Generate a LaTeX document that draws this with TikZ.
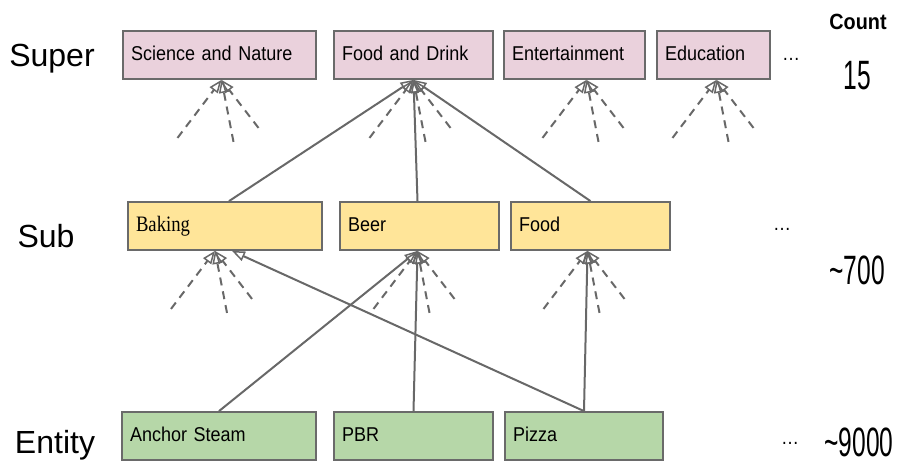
\documentclass[tikz,border=0pt]{standalone}
\usepackage{fontspec}
\setmainfont{Liberation Sans}
\newfontfamily\boxfont[FakeStretch=0.9]{Liberation Sans}
\newfontfamily\bakingfont[FakeStretch=0.85]{Liberation Serif}
\newfontfamily\countfont[FakeStretch=0.6]{Liberation Sans}
\newfontfamily\headfont[FakeStretch=0.9]{Liberation Sans}
\usepackage{xcolor}
\usetikzlibrary{arrows.meta}
\definecolor{supercolor}{HTML}{EAD1DC}
\definecolor{subcolor}{HTML}{FFE599}
\definecolor{entitycolor}{HTML}{B6D7A8}
\definecolor{bordercolor}{HTML}{6A6A6A}
\definecolor{linecolor}{HTML}{686868}

\begin{document}
\begin{tikzpicture}[x = 1pt, y = -1pt,
    box/.style = {draw = bordercolor, line width = 1.8pt, rectangle, minimum height = 48pt, inner xsep = 8pt, align = left, text height = 15pt, text depth = 4pt, font = \boxfont\fontsize{20}{24}\selectfont},
    link/.style = {-{Triangle[open, length = 13pt, width = 10pt, line width = 1.5pt]}, line width = 2pt, linecolor},
    fan/.style = {link, dash pattern = on 8pt off 6pt},
    level/.style = {font = \fontsize{32}{36}\selectfont},
    count/.style = {font = \countfont\fontsize{41}{46}\selectfont}]
        \useasboundingbox (0, 0) rectangle (908, 464);

        % Nodes
        \node [box, fill = supercolor, text width = 177pt] (sci) at (219.5, 55) {Science and Nature};
        \node [box, fill = supercolor, text width = 143pt] (fad) at (413.5, 55) {Food and Drink};
        \node [box, fill = supercolor, text width = 125pt] (ent) at (574.5, 55) {Entertainment};
        \node [box, fill = supercolor, text width = 97pt] (edu) at (713.5, 55) {Education};

        \node [box, fill = subcolor, text width = 178pt] (bak) at (225, 226) {\bakingfont\fontsize{22}{24}\selectfont Baking};
        \node [box, fill = subcolor, text width = 143pt] (beer) at (419.5, 226) {Beer};
        \node [box, fill = subcolor, text width = 143pt] (food) at (590.5, 226) {Food};

        \node [box, fill = entitycolor, text width = 178pt] (anc) at (219, 436) {Anchor Steam};
        \node [box, fill = entitycolor, text width = 143pt] (pbr) at (413.5, 436) {PBR};
        \node [box, fill = entitycolor, text width = 142pt] (piz) at (584, 436) {Pizza};

        % Draw the links
        \draw [link] ([xshift = 4pt] bak.north) -- (fad.south);
        \draw [link] ([xshift = -2pt] beer.north) -- (fad.south);
        \draw [link] (food.north) -- (fad.south);
        \draw [link] (anc.north) -- ([xshift = -2pt] beer.south);
        \draw [link] (pbr.north) -- ([xshift = -2pt] beer.south);
        \draw [link] (piz.north) -- ([xshift = -3pt] food.south);
        \draw [link] (piz.north) -- ([xshift = 7pt] bak.south);

        % Dashed fans
        \foreach \n/\s in {sci/2, fad/0, ent/12, edu/3, bak/-10, beer/-2, food/-3} {
            \draw [fan] ([shift = {(\s - 44, 58)}] \n.south) -- ([xshift = \s pt] \n.south);
            \draw [fan] ([shift = {(\s + 12, 62)}] \n.south) -- ([xshift = \s pt] \n.south);
            \draw [fan] ([shift = {(\s + 37, 48)}] \n.south) -- ([xshift = \s pt] \n.south);
        }

        % Level names
        \node [level] (super) at (52, 59) {Super};
        \node [level] (sub) at (46, 236) {Sub};
        \node [level] (entity) at (55, 445) {Entity};

        % Dots
        \node [font = \boxfont\fontsize{20}{24}\selectfont] (dots1) at (791, 59) {\dots};
        \node [font = \boxfont\fontsize{20}{24}\selectfont] (dots2) at (782, 229) {\dots};
        \node [font = \boxfont\fontsize{20}{24}\selectfont] (dots3) at (790, 443) {\dots};

        % Counts
        \node [font = \headfont\bfseries\fontsize{22}{26}\selectfont] (count) at (858, 22) {Count};
        \node [count] (n1) at (857, 76) {15};
        \node [count] (n2) at (857, 270) {\textasciitilde 700};
        \node [count] (n3) at (859, 442) {\textasciitilde 9000};

    \end{tikzpicture}
\end{document}
